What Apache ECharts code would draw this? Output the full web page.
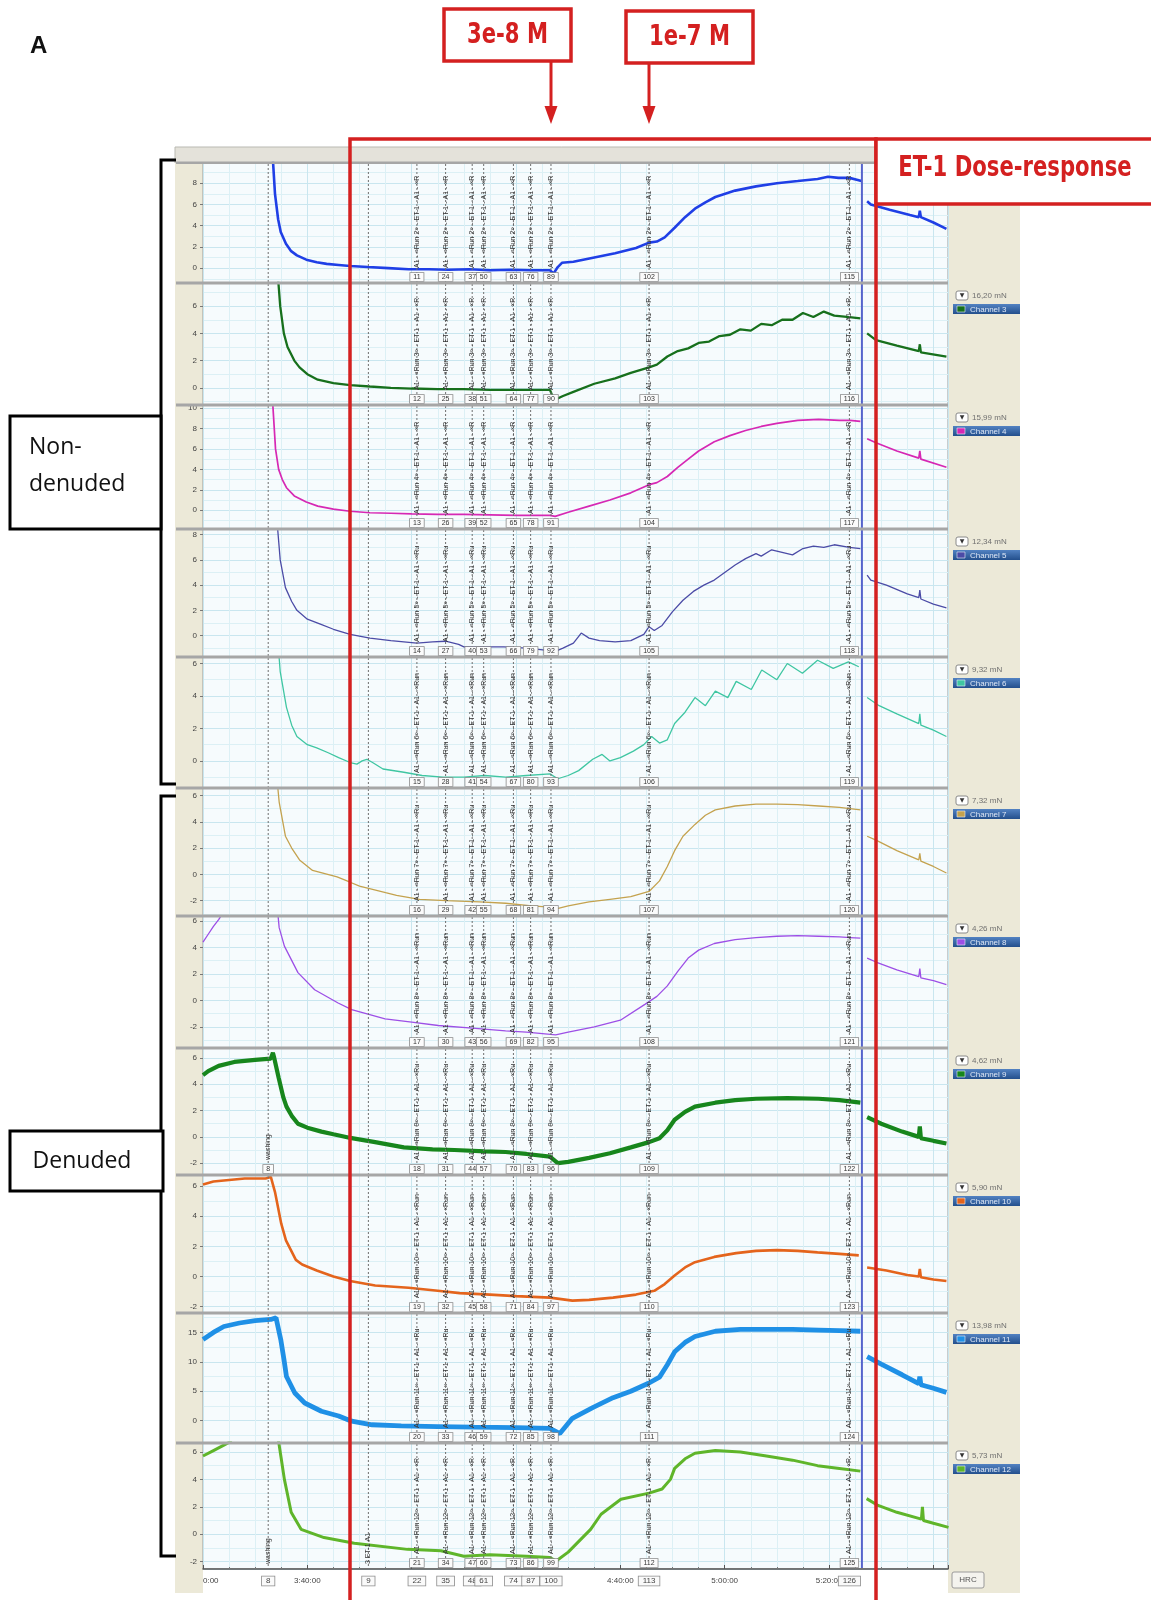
<!DOCTYPE html>
<html>
<head>
<meta charset="utf-8">
<script src="https://cdn.jsdelivr.net/npm/echarts@6/dist/echarts.min.js"></script>
<style>
html, body { margin: 0; padding: 0; background: #ffffff; }
#chart { width: 1151px; height: 1600px; }
</style>
</head>
<body>
<div id="chart"></div>
<script>
// ---- recorded force traces (time in minutes from 0:00, force in mN) ----
const GAP = '-';

const ch2 = [[213.3, 11], [213.8, 7], [214.4, 4.6], [214.9, 3.4], [215.9, 2.3], [216.9, 1.6], [218.0, 1.2], [219.8, 0.8], [221.8, 0.55], [223.7, 0.4], [226.0, 0.3], [228.2, 0.2], [231.6, 0.1], [235.5, 0.0], [239.4, -0.1], [243.3, -0.1], [247.0, -0.15], [251.0, -0.1], [255.0, -0.2], [259.0, -0.15], [263.0, -0.2], [266.5, -0.2], [267.2, -0.5], [268.0, 0.1], [268.8, 0.5], [271.0, 0.6], [275.0, 1.0], [279.0, 1.4], [283.0, 1.9], [285.5, 2.4], [287.0, 2.5], [288.5, 2.9], [290.4, 3.8], [292.4, 4.8], [294.3, 5.6], [296.3, 6.2], [298.2, 6.7], [302.0, 7.3], [306.0, 7.7], [310.0, 8.0], [314.0, 8.2], [317.8, 8.4], [319.8, 8.6], [321.8, 8.5], [323.9, 8.5], [325.5, 8.3], [326.2, 8.2], [326.3, GAP], [327.3, 6.3], [328.0, 6.0], [331.6, 5.5], [335.5, 5.0], [337.2, 4.8], [337.4, 5.4], [337.6, 4.8], [340.0, 4.3], [342.5, 3.7]];

const ch3 = [[214.2, 9], [214.8, 6], [215.5, 4], [216.2, 3.0], [217.5, 2.0], [218.5, 1.5], [220.0, 1.0], [222.0, 0.6], [225.0, 0.35], [228.2, 0.2], [232.0, 0.1], [236.0, 0.0], [240.0, -0.05], [245.0, -0.1], [250.0, -0.1], [255.0, -0.15], [260.0, -0.15], [266.5, -0.15], [267.3, -0.9], [269.0, -0.6], [271.0, -0.3], [275.0, 0.3], [279.0, 0.7], [282.0, 1.1], [285.5, 1.5], [287.0, 1.7], [289.0, 2.3], [291.0, 2.7], [293.0, 2.9], [295.0, 3.3], [297.0, 3.4], [299.0, 3.8], [301.0, 3.9], [303.0, 4.3], [305.0, 4.2], [307.0, 4.7], [309.0, 4.6], [311.0, 5.0], [313.0, 5.0], [315.0, 5.5], [317.0, 5.2], [319.0, 5.6], [321.0, 5.3], [323.9, 5.2], [326.0, 5.1], [326.3, GAP], [327.3, 4.0], [329.0, 3.5], [333.0, 3.1], [337.2, 2.7], [337.4, 3.2], [337.6, 2.6], [342.5, 2.3]];

const ch4 = [[213.3, 11], [213.9, 6], [214.5, 4], [215.2, 3], [216.0, 2.2], [217.5, 1.4], [219.8, 0.8], [222.0, 0.4], [225.0, 0.1], [228.2, -0.1], [232.0, -0.25], [236.0, -0.3], [240.0, -0.35], [245.0, -0.4], [250.0, -0.4], [255.0, -0.45], [260.0, -0.5], [266.5, -0.5], [267.5, -0.6], [270.0, -0.2], [274.0, 0.4], [278.0, 1.0], [282.0, 1.7], [285.5, 2.5], [287.0, 2.7], [289.0, 3.3], [291.0, 4.2], [293.0, 5.0], [295.0, 5.8], [298.0, 6.7], [301.0, 7.3], [304.0, 7.8], [307.0, 8.2], [310.0, 8.5], [314.0, 8.8], [318.0, 8.9], [322.0, 8.8], [324.0, 8.8], [326.0, 8.7], [326.3, GAP], [327.3, 7.0], [329.0, 6.6], [333.0, 5.8], [337.2, 5.1], [337.4, 5.8], [337.6, 5.0], [342.5, 4.2]];

const ch5 = [[214.2, 9], [214.8, 6], [215.8, 3.8], [217.0, 2.7], [218.0, 2.0], [220.0, 1.3], [222.5, 0.9], [225.0, 0.5], [228.2, 0.1], [232.0, -0.2], [236.0, -0.4], [238.5, -0.5], [241.0, -0.6], [244.0, -0.5], [246.5, -0.45], [249.0, -0.7], [250.0, -0.9], [254.0, -0.9], [257.7, -0.9], [262.0, -1.0], [266.5, -1.2], [267.3, -1.3], [269.0, -1.0], [271.0, -0.6], [272.5, 0.2], [274.0, -0.2], [276.0, -0.4], [279.0, -0.5], [282.0, -0.4], [284.5, 0.1], [285.5, 0.7], [286.5, 0.4], [288.0, 0.8], [290.0, 1.9], [292.0, 2.8], [294.0, 3.5], [296.0, 4.0], [298.0, 4.4], [300.0, 5.0], [302.0, 5.6], [304.0, 6.1], [306.0, 6.5], [307.0, 6.3], [309.0, 6.8], [311.0, 6.6], [313.0, 6.4], [315.0, 6.9], [317.0, 7.1], [319.0, 7.0], [321.0, 7.2], [323.9, 7.0], [326.0, 6.9], [326.3, GAP], [327.3, 4.8], [328.0, 4.4], [331.0, 4.0], [335.0, 3.3], [337.2, 3.0], [337.4, 3.6], [337.6, 2.9], [340.0, 2.5], [342.5, 2.2]];

const ch6 = [[214.2, 8], [214.8, 5.5], [216.0, 3.3], [217.0, 2.2], [218.0, 1.5], [220.0, 1.0], [221.8, 0.8], [224.0, 0.5], [226.0, 0.2], [228.2, -0.1], [229.5, -0.2], [230.5, 0.0], [231.4, 0.1], [232.5, -0.1], [234.5, -0.5], [238.5, -0.7], [242.0, -0.9], [246.0, -1.0], [250.0, -1.0], [254.0, -0.9], [258.0, -1.0], [262.0, -0.9], [266.5, -0.8], [268.0, -1.1], [270.0, -0.9], [272.0, -0.6], [274.7, 0.1], [276.5, 0.4], [278.0, 0.0], [280.0, 0.2], [282.5, 0.6], [284.5, 1.0], [286.0, 1.5], [287.5, 1.1], [289.0, 1.3], [290.4, 2.3], [292.4, 3.0], [294.3, 3.9], [296.3, 3.4], [298.2, 4.3], [300.6, 3.9], [302.2, 4.9], [305.1, 4.4], [307.1, 5.6], [310.0, 5.0], [312.0, 6.0], [314.9, 5.4], [317.8, 6.2], [320.8, 5.7], [323.7, 6.1], [325.7, 5.8], [326.3, GAP], [327.3, 3.9], [329.6, 3.4], [333.0, 2.9], [337.2, 2.3], [337.4, 2.9], [337.6, 2.2], [340.0, 1.9], [342.5, 1.5]];

const ch7 = [[214.0, 8], [214.6, 5.5], [215.8, 2.9], [217.0, 2.0], [218.5, 1.1], [221.0, 0.3], [225.7, -0.2], [228.2, -0.6], [230.0, -0.9], [235.0, -1.4], [237.1, -1.6], [241.5, -1.9], [246.6, -2.0], [253.0, -2.1], [258.0, -2.2], [263.0, -2.4], [266.5, -2.5], [267.9, -2.6], [270.0, -2.4], [274.0, -2.1], [278.0, -1.9], [282.0, -1.7], [285.5, -1.3], [287.5, -0.5], [289.0, 0.6], [290.4, 1.8], [292.0, 2.9], [294.3, 3.8], [296.3, 4.5], [298.2, 4.9], [302.0, 5.2], [306.0, 5.35], [310.0, 5.35], [314.0, 5.3], [318.0, 5.2], [322.0, 5.1], [324.0, 5.0], [326.0, 4.9], [326.3, GAP], [327.3, 2.9], [329.0, 2.6], [333.0, 1.8], [337.2, 1.1], [337.4, 1.6], [337.6, 1.0], [340.0, 0.6], [342.5, 0.1]];

const ch8 = [[200.0, 4.4], [201.0, 5.0], [202.0, 5.6], [203.0, 6.1], [203.8, 6.6], [208.0, GAP], [214.0, 8], [214.6, 5.5], [215.6, 4.1], [218.2, 2.1], [221.4, 0.8], [225.9, -0.2], [228.5, -0.7], [234.9, -1.4], [240.0, -1.65], [245.1, -1.9], [251.6, -2.1], [258.0, -2.3], [262.0, -2.4], [267.6, -2.6], [270.0, -2.4], [275.0, -2.0], [280.0, -1.5], [284.7, -0.3], [287.0, 0.3], [289.0, 1.1], [291.0, 2.2], [293.0, 3.2], [295.0, 3.8], [298.0, 4.3], [302.0, 4.6], [306.0, 4.75], [310.0, 4.85], [314.0, 4.9], [318.0, 4.85], [322.0, 4.8], [324.0, 4.75], [326.0, 4.7], [326.3, GAP], [327.3, 3.2], [329.0, 2.9], [333.0, 2.3], [337.2, 1.8], [337.4, 2.4], [337.6, 1.7], [340.0, 1.5], [342.5, 1.2]];

const ch9 = [[200.0, 4.7], [201.0, 5.0], [203.0, 5.4], [206.0, 5.7], [210.0, 5.85], [213.0, 5.95], [213.4, 6.4], [213.6, 6.1], [214.5, 4.5], [215.4, 3.0], [216.0, 2.3], [217.0, 1.6], [218.2, 1.0], [220.0, 0.7], [222.7, 0.4], [225.0, 0.2], [228.5, -0.1], [233.0, -0.4], [238.5, -0.8], [244.0, -0.95], [248.2, -1.0], [254.0, -1.1], [258.0, -1.15], [262.0, -1.3], [266.5, -1.5], [268.0, -2.0], [270.0, -1.9], [274.0, -1.6], [278.0, -1.25], [282.0, -0.8], [285.5, -0.4], [287.5, -0.1], [289.0, 0.5], [290.4, 1.3], [292.4, 1.9], [294.3, 2.3], [298.2, 2.6], [302.0, 2.8], [306.0, 2.9], [312.0, 2.95], [318.0, 2.9], [322.0, 2.8], [326.0, 2.6], [326.3, GAP], [327.3, 1.5], [330.0, 1.0], [334.0, 0.4], [337.2, 0.0], [337.4, 0.8], [337.6, -0.1], [340.0, -0.3], [342.5, -0.5]];

const ch10 = [[200.0, 6.1], [202.0, 6.3], [205.0, 6.4], [208.0, 6.5], [212.0, 6.5], [213.0, 6.6], [213.8, 5.6], [215.0, 3.5], [215.9, 2.4], [217.8, 1.1], [219.0, 0.8], [221.8, 0.4], [225.0, 0.0], [228.2, -0.3], [233.0, -0.6], [239.4, -0.75], [245.0, -0.95], [249.2, -1.1], [255.0, -1.2], [260.0, -1.3], [266.5, -1.4], [270.8, -1.6], [274.0, -1.55], [278.6, -1.4], [283.0, -1.2], [286.5, -0.95], [288.5, -0.5], [290.4, 0.07], [292.4, 0.6], [294.3, 0.95], [298.0, 1.3], [302.2, 1.55], [306.0, 1.7], [310.0, 1.75], [314.0, 1.7], [317.8, 1.6], [322.0, 1.5], [325.7, 1.4], [326.3, GAP], [327.3, 0.6], [331.0, 0.4], [335.0, 0.1], [337.2, 0.0], [337.4, 0.5], [337.6, -0.05], [340.0, -0.2], [342.5, -0.3]];

const ch11 = [[200.0, 13.8], [202.0, 15.0], [204.0, 16.0], [207.0, 16.6], [210.0, 17.0], [213.0, 17.2], [214.0, 17.5], [214.9, 13.8], [215.5, 10.5], [216.0, 7.5], [217.6, 4.7], [219.5, 3.0], [222.7, 1.6], [226.0, 0.8], [228.5, -0.1], [232.4, -0.7], [238.0, -0.9], [245.0, -1.0], [252.0, -1.1], [260.0, -1.2], [266.5, -1.3], [268.4, -2.2], [270.8, 0.4], [274.7, 2.2], [278.6, 3.9], [282.0, 5.0], [285.5, 6.4], [287.5, 7.4], [289.0, 9.5], [290.4, 11.7], [292.4, 13.3], [294.3, 14.3], [298.2, 15.2], [303.0, 15.5], [308.0, 15.5], [313.0, 15.5], [318.0, 15.4], [322.0, 15.3], [326.0, 15.2], [326.3, GAP], [327.3, 10.9], [330.0, 9.6], [334.0, 7.8], [337.2, 6.3], [337.4, 7.5], [337.6, 6.1], [340.0, 5.5], [342.5, 4.8]];

const ch12 = [[200.0, 5.7], [202.0, 6.1], [204.0, 6.5], [205.5, 6.8], [209.0, GAP], [214.0, 8], [215.0, 5.5], [215.6, 4.0], [216.9, 1.6], [218.8, 0.36], [223.2, -0.24], [229.0, -0.66], [239.2, -1.1], [245.6, -1.2], [250.0, -1.6], [255.0, -1.5], [262.0, -1.6], [266.5, -1.7], [267.7, -1.95], [270.0, -1.3], [274.3, 0.36], [276.3, 1.46], [280.1, 2.55], [285.5, 3.0], [288.0, 3.3], [289.6, 4.0], [290.4, 4.8], [292.4, 5.5], [294.3, 5.9], [298.2, 6.1], [303.0, 6.0], [308.0, 5.7], [313.0, 5.4], [317.8, 5.0], [322.0, 4.8], [326.0, 4.6], [326.3, GAP], [327.2, 2.6], [329.4, 2.1], [333.0, 1.6], [337.7, 1.1], [337.9, 2.0], [338.1, 1.0], [340.0, 0.8], [342.9, 0.5]];

const traces = [ch2, ch3, ch4, ch5, ch6, ch7, ch8, ch9, ch10, ch11, ch12];

// ---- protocol events (time in minutes) and event numbers ----
const washTime = 212.5;
const bufferTime = 231.7;
const doseTimes = [241.0, 246.5, 251.6, 253.8, 259.5, 262.8, 266.7, 285.5, 323.9];
const switchTime = 326.3;

const ids2 = [11, 24, 37, 50, 63, 76, 89, 102, 115];
const ids3 = [12, 25, 38, 51, 64, 77, 90, 103, 116];
const ids4 = [13, 26, 39, 52, 65, 78, 91, 104, 117];
const ids5 = [14, 27, 40, 53, 66, 79, 92, 105, 118];
const ids6 = [15, 28, 41, 54, 67, 80, 93, 106, 119];
const ids7 = [16, 29, 42, 55, 68, 81, 94, 107, 120];
const ids8 = [17, 30, 43, 56, 69, 82, 95, 108, 121];
const ids9 = [18, 31, 44, 57, 70, 83, 96, 109, 122];
const ids10 = [19, 32, 45, 58, 71, 84, 97, 110, 123];
const ids11 = [20, 33, 46, 59, 72, 85, 98, 111, 124];
const ids12 = [21, 34, 47, 60, 73, 86, 99, 112, 125];
const eventIds = [ids2, ids3, ids4, ids5, ids6, ids7, ids8, ids9, ids10, ids11, ids12];
const axisEventTimes = [212.5, 231.7, 241.0, 246.5, 251.6, 253.8, 259.5, 262.8, 266.7, 285.5, 323.9];
const axisEventIds = [8, 9, 22, 35, 48, 61, 74, 87, 100, 113, 126];

// ---- labels ----
const channelNames = ['Channel 2', 'Channel 3', 'Channel 4', 'Channel 5', 'Channel 6', 'Channel 7', 'Channel 8', 'Channel 9', 'Channel 10', 'Channel 11', 'Channel 12'];
const runNames = ['«Run 2»', '«Run 3»', '«Run 4»', '«Run 5»', '«Run 6»', '«Run 7»', '«Run 8»', '«Run 9»', '«Run 10»', '«Run 11»', '«Run 12»'];
const forceReadouts = ['', '16,20 mN', '15,99 mN', '12,34 mN', '9,32 mN', '7,32 mN', '4,26 mN', '4,62 mN', '5,90 mN', '13,98 mN', '5,73 mN'];
const timeTickLabels = [[200, '0:00'], [220, '3:40:00'], [280, '4:40:00'], [300, '5:00:00'], [320, '5:20:00']];

// ---- layout & styling ----
const T_MIN = 200, T_MAX = 342.8;
const PLOT_LEFT = 203, PLOT_RIGHT = 948;
const bounds = [163, 283, 405, 529, 657, 788, 916, 1048, 1175, 1313, 1443, 1569];
const yRanges = [[-1.4, 9.9], [-1.26, 7.7], [-1.84, 10.3], [-1.7, 8.45], [-1.67, 6.4], [-3.17, 6.57], [-3.6, 6.38], [-2.9, 6.76], [-2.42, 6.73], [-3.8, 18.3], [-2.53, 6.65]];
const colors = ['#1f3fe6', '#17701c', '#d628b4', '#4b4ba6', '#3fc6a2', '#c4a24e', '#9d4fe6', '#17861c', '#e4641c', '#1f90e6', '#5fb52a'];
const widths = [2.6, 2.3, 1.7, 1.3, 1.3, 1.3, 1.3, 4.2, 2.6, 4.8, 3];
const RED = '#d42020';
const BEIGE = '#ece9d8';
const SMALL_FONT = '"Liberation Sans", Arial, sans-serif';
const RED_FONT = 'bold 28px "Liberation Sans Narrow", "DejaVu Sans Condensed", "Liberation Sans", sans-serif';
const RED_SQUEEZE = 0.84;

const nPanels = traces.length;

function panelMarkers(i) {
  const runText = 'A1 - ' + runNames[i] + ' - ET-1 - A1 - ' + runNames[i] + ' - ET-1 - A1';
  const list = [
    { t: washTime, kind: 'dot', text: i === 7 || i === 10 ? 'washing' : '', id: i === 7 ? 8 : null },
    { t: bufferTime, kind: 'dot', text: i === 10 ? '3 ET-1 A1' : '', id: null }
  ];
  doseTimes.forEach((t, k) => list.push({ t: t, kind: 'dose', text: runText, id: eventIds[i][k] }));
  list.push({ t: switchTime, kind: 'switch' });
  return list;
}

function markerRenderer(list) {
  return function (params, api) {
    const m = list[params.dataIndex];
    const cs = params.coordSys;
    const x = api.coord([m.t, 0])[0];
    const top = cs.y, bot = cs.y + cs.height;
    const kids = [];
    if (m.kind === 'switch') {
      kids.push({ type: 'line', shape: { x1: x, y1: top + 1, x2: x, y2: bot - 1 },
        style: { stroke: '#5564cc', lineWidth: 2 } });
      return { type: 'group', children: kids };
    }
    kids.push({ type: 'line', shape: { x1: x, y1: top + 1, x2: x, y2: bot - 1 },
      style: { stroke: '#6f6f6f', lineWidth: 1, lineDash: [2, 2] } });
    if (m.text) {
      kids.push({ type: 'text', x: x, y: bot - (m.id ? 15 : 5), rotation: Math.PI / 2,
        style: { text: m.text, font: '7px ' + SMALL_FONT, fill: '#333333', align: 'left', verticalAlign: 'middle',
          width: cs.height - (m.id ? 22 : 12), overflow: 'truncate', ellipsis: '' } });
    }
    if (m.id) {
      kids.push({ type: 'text', x: x, y: bot - 6,
        style: { text: String(m.id), font: '7px ' + SMALL_FONT, fill: '#333', align: 'center', verticalAlign: 'middle',
          backgroundColor: '#fbfbfb', borderColor: '#8c8c8c', borderWidth: 0.8, padding: [1, 3, 0, 3] } });
    }
    return { type: 'group', children: kids };
  };
}

function axisBoxRenderer(params, api) {
  const cs = params.coordSys;
  const x = api.coord([api.value(0), 0])[0];
  return {
    type: 'text', x: x, y: cs.y + cs.height + 12,
    style: { text: String(api.value(1)), font: '8px ' + SMALL_FONT, fill: '#444', align: 'center', verticalAlign: 'middle',
      backgroundColor: '#fafafa', borderColor: '#8c8c8c', borderWidth: 0.8, padding: [1, 4, 0, 4] }
  };
}

const grids = [], xAxes = [], yAxes = [], series = [];
for (let i = 0; i < nPanels; i++) {
  const last = i === nPanels - 1;
  grids.push({ left: PLOT_LEFT, width: PLOT_RIGHT - PLOT_LEFT, top: bounds[i], height: bounds[i + 1] - bounds[i],
    show: true, backgroundColor: '#f6fbfd', borderColor: '#9c9c9c', borderWidth: 1 });
  xAxes.push({
    type: 'value', gridIndex: i, min: T_MIN, max: T_MAX, interval: 20,
    axisLine: { show: last, onZero: false, lineStyle: { color: '#555', width: 1.5 } },
    axisTick: { show: last, inside: true, length: 4, lineStyle: { color: '#555' } },
    minorTick: { show: last, splitNumber: 4, length: 2, lineStyle: { color: '#777' } },
    axisLabel: {
      show: last, fontSize: 8, color: '#444', fontFamily: SMALL_FONT, margin: 8,
      showMaxLabel: false, alignMinLabel: 'left',
      formatter: function (v) { const f = timeTickLabels.find(p => p[0] === v); return f ? f[1] : ''; }
    },
    splitLine: { show: true, lineStyle: { color: '#c9e6ef', width: 1 } },
    minorSplitLine: { show: true, lineStyle: { color: '#dcf0f5', width: 1 } }
  });
  yAxes.push({
    type: 'value', gridIndex: i, min: yRanges[i][0], max: yRanges[i][1],
    axisLine: { show: false },
    axisTick: { show: true, length: 3, lineStyle: { color: '#777' } },
    axisLabel: { fontSize: 8, color: '#444', fontFamily: SMALL_FONT, margin: 6, showMinLabel: false, showMaxLabel: false },
    splitLine: { show: true, lineStyle: { color: '#c9e6ef', width: 1 } },
    minorTick: { show: false, splitNumber: 2 },
    minorSplitLine: { show: true, lineStyle: { color: '#dcf0f5', width: 1 } }
  });
  series.push({
    type: 'line', name: channelNames[i], xAxisIndex: i, yAxisIndex: i, data: traces[i],
    showSymbol: false, connectNulls: false, clip: true, z: 3,
    lineStyle: { color: colors[i], width: widths[i] }, itemStyle: { color: colors[i] }
  });
  const markers = panelMarkers(i);
  series.push({
    type: 'custom', xAxisIndex: i, yAxisIndex: i, clip: false, z: 4,
    data: markers.map(m => [m.t, 0]), encode: { x: 0, y: 1 },
    renderItem: markerRenderer(markers)
  });
}
series.push({
  type: 'custom', xAxisIndex: nPanels - 1, yAxisIndex: nPanels - 1, clip: false, z: 5,
  data: axisEventTimes.map((t, k) => [t, axisEventIds[k]]), encode: { x: 0, y: 1 },
  renderItem: axisBoxRenderer
});

// ---- frame, side panel and annotations ----
const graphics = [];
graphics.push({ type: 'rect', z: -20, shape: { x: 175, y: 147, width: 773, height: 16 }, style: { fill: '#e4e2da', stroke: '#b9b9b2', lineWidth: 1 } });
graphics.push({ type: 'rect', z: -20, shape: { x: 175, y: 163, width: 28, height: 1430 }, style: { fill: BEIGE } });
graphics.push({ type: 'rect', z: -20, shape: { x: PLOT_RIGHT, y: 147, width: 72, height: 1446 }, style: { fill: BEIGE } });
graphics.push({ type: 'line', z: -19, shape: { x1: PLOT_RIGHT + 0.5, y1: 147, x2: PLOT_RIGHT + 0.5, y2: 1569 }, style: { stroke: '#b8b6aa', lineWidth: 1 } });
for (let i = 1; i < nPanels; i++) {
  graphics.push({ type: 'rect', z: 6, shape: { x: 176, y: bounds[i] - 1.5, width: PLOT_RIGHT - 176, height: 3 }, style: { fill: '#a6a6a6' } });
}
graphics.push({ type: 'rect', z: 6, shape: { x: 176, y: bounds[0] - 1.5, width: PLOT_RIGHT - 176, height: 2.5 }, style: { fill: '#a6a6a6' } });
for (let i = 1; i < nPanels; i++) {
  const T = bounds[i];
  graphics.push({ type: 'rect', z: 7, shape: { x: 956, y: T + 8, width: 12, height: 9, r: 2 }, style: { fill: '#ffffff', stroke: '#8a8a8a', lineWidth: 1 } });
  graphics.push({ type: 'text', z: 8, x: 962, y: T + 12.5, style: { text: '▼', font: '6px "DejaVu Sans"', fill: '#333', align: 'center', verticalAlign: 'middle' } });
  graphics.push({ type: 'text', z: 8, x: 972, y: T + 12.5, style: { text: forceReadouts[i], font: '8px ' + SMALL_FONT, fill: '#707070', align: 'left', verticalAlign: 'middle' } });
  graphics.push({ type: 'rect', z: 7, shape: { x: 953, y: T + 21, width: 67, height: 10 },
    style: { fill: new echarts.graphic.LinearGradient(0, 0, 0, 1, [{ offset: 0, color: '#5282c2' }, { offset: 1, color: '#234f8c' }]) } });
  graphics.push({ type: 'rect', z: 8, shape: { x: 957, y: T + 23, width: 8, height: 6 }, style: { fill: colors[i], stroke: '#e8eef8', lineWidth: 0.6 } });
  graphics.push({ type: 'text', z: 8, x: 970, y: T + 26.5, style: { text: channelNames[i], font: '8px ' + SMALL_FONT, fill: '#dfe8f6', align: 'left', verticalAlign: 'middle' } });
}
graphics.push({ type: 'rect', z: 7, shape: { x: 952, y: 1572, width: 32, height: 16, r: 2 }, style: { fill: '#f4f3ee', stroke: '#9a9a9a', lineWidth: 1 } });
graphics.push({ type: 'text', z: 8, x: 968, y: 1580, style: { text: 'HRC', font: '8px ' + SMALL_FONT, fill: '#555', align: 'center', verticalAlign: 'middle' } });

graphics.push({ type: 'text', z: 50, x: 30, y: 46, style: { text: 'A', font: 'bold 24px "Liberation Sans", Arial, sans-serif', fill: '#111', align: 'left', verticalAlign: 'middle' } });

function bracket(y1, y2) {
  return { type: 'polyline', z: 50, shape: { points: [[176, y1], [161, y1], [161, y2], [176, y2]] }, style: { stroke: '#000', lineWidth: 3, fill: null } };
}
graphics.push(bracket(160, 784));
graphics.push(bracket(796, 1556));
graphics.push({ type: 'rect', z: 51, shape: { x: 10, y: 416, width: 151, height: 113 }, style: { fill: '#fff', stroke: '#000', lineWidth: 3 } });
graphics.push({ type: 'text', z: 52, x: 29, y: 447, style: { text: 'Non-', font: '23px "Open Sans", "Liberation Sans", sans-serif', fill: '#111', align: 'left', verticalAlign: 'middle' } });
graphics.push({ type: 'text', z: 52, x: 29, y: 484, style: { text: 'denuded', font: '23px "Open Sans", "Liberation Sans", sans-serif', fill: '#111', align: 'left', verticalAlign: 'middle' } });
graphics.push({ type: 'rect', z: 51, shape: { x: 10, y: 1131, width: 153, height: 60 }, style: { fill: '#fff', stroke: '#000', lineWidth: 3 } });
graphics.push({ type: 'text', z: 52, x: 82, y: 1161, style: { text: 'Denuded', font: '23px "Open Sans", "Liberation Sans", sans-serif', fill: '#111', align: 'center', verticalAlign: 'middle' } });

graphics.push({ type: 'rect', z: 60, shape: { x: 350, y: 139, width: 526, height: 1500 }, style: { fill: null, stroke: RED, lineWidth: 3.5 } });
graphics.push({ type: 'rect', z: 61, shape: { x: 876, y: 139, width: 300, height: 65 }, style: { fill: '#ffffff', stroke: RED, lineWidth: 3.5 } });
graphics.push({ type: 'text', z: 62, x: 1015, y: 169, scaleX: RED_SQUEEZE, style: { text: 'ET-1 Dose-response', font: RED_FONT, fill: RED, align: 'center', verticalAlign: 'middle' } });

function callout(bx, by, bw, bh, label, ax) {
  graphics.push({ type: 'rect', z: 61, shape: { x: bx, y: by, width: bw, height: bh }, style: { fill: '#ffffff', stroke: RED, lineWidth: 3.5 } });
  graphics.push({ type: 'text', z: 62, x: bx + bw / 2, y: by + bh / 2 + 1, scaleX: RED_SQUEEZE, style: { text: label, font: RED_FONT, fill: RED, align: 'center', verticalAlign: 'middle' } });
  graphics.push({ type: 'line', z: 61, shape: { x1: ax, y1: by + bh, x2: ax, y2: 110 }, style: { stroke: RED, lineWidth: 3 } });
  graphics.push({ type: 'polygon', z: 61, shape: { points: [[ax - 6.5, 106], [ax + 6.5, 106], [ax, 124]] }, style: { fill: RED } });
}

const chart = echarts.init(document.getElementById('chart'), null, { renderer: 'canvas', width: 1151, height: 1600 });
chart.setOption({
  animation: false,
  backgroundColor: '#ffffff',
  grid: grids,
  xAxis: xAxes,
  yAxis: yAxes,
  series: series
});
// arrows point at the two marked additions
const a1 = chart.convertToPixel({ xAxisIndex: 0 }, doseTimes[6]);
const a2 = chart.convertToPixel({ xAxisIndex: 0 }, doseTimes[7]);
callout(444, 9, 127, 52, '3e-8 M', Math.round(a1));
callout(626, 11, 127, 52, '1e-7 M', Math.round(a2));
chart.setOption({ graphic: { elements: graphics } });
</script>
</body>
</html>
